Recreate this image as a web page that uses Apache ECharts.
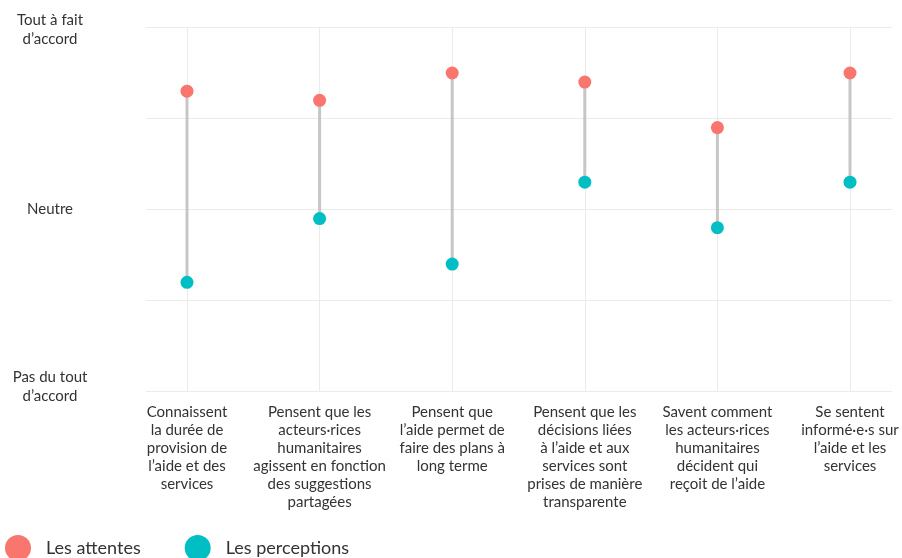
<!DOCTYPE html>
<html>
<head>
<meta charset="utf-8">
<script src="https://cdn.jsdelivr.net/npm/echarts@6/dist/echarts.min.js"></script>
<style>html,body{margin:0;padding:0;background:#fff}#c{width:902px;height:558px}</style>
</head>
<body>
<div id="c"></div>
<script>
const categories = [
  'Connaissent\nla durée de\nprovision de\nl’aide et des\nservices',
  'Pensent que les\nacteurs·rices\nhumanitaires\nagissent en fonction\ndes suggestions\npartagées',
  'Pensent que\nl’aide permet de\nfaire des plans à\nlong terme',
  'Pensent que les\ndécisions liées\nà l’aide et aux\nservices sont\nprises de manière\ntransparente',
  'Savent comment\nles acteurs·rices\nhumanitaires\ndécident qui\nreçoit de l’aide',
  'Se sentent\ninformé·e·s sur\nl’aide et les\nservices'
];
const attentes = [4.3, 4.2, 4.5, 4.4, 3.9, 4.5];
const perceptions = [2.2, 2.9, 2.4, 3.3, 2.8, 3.3];
const yTickLabels = {1: 'Pas du tout\nd’accord', 3: 'Neutre', 5: 'Tout à fait\nd’accord'};

const FONT = 'Lato';
const TXT = '#333333';
const chart = echarts.init(document.getElementById('c'), null, {renderer: 'canvas'});
const gTop = 27.5, gBottom = 558 - 391.5;
const labelStyle = {color: TXT, fontSize: 15, lineHeight: 19, fontFamily: FONT, align: 'center'};

chart.setOption({
  animation: false,
  textStyle: {fontFamily: FONT},
  grid: [
    {left: 146, right: 10, top: gTop, bottom: gBottom},
    {left: 187, right: 52, top: gTop, bottom: gBottom}
  ],
  xAxis: [
    {gridIndex: 0, type: 'value', min: 0, max: 1, show: false},
    {gridIndex: 1, type: 'category', data: categories, boundaryGap: false,
     axisLine: {show: false}, axisTick: {show: false},
     splitLine: {show: true, lineStyle: {color: '#ebebeb', width: 1}},
     axisLabel: {color: TXT, fontSize: 15, lineHeight: 18, margin: 12, interval: 0, fontFamily: FONT, align: 'center'}}
  ],
  yAxis: [
    {gridIndex: 0, type: 'value', min: 1, max: 5, interval: 1,
     axisLine: {show: false}, axisTick: {show: false},
     splitLine: {show: true, lineStyle: {color: '#ebebeb', width: 1}},
     axisLabel: {color: TXT, fontSize: 15, lineHeight: 19, align: 'center', margin: 96, fontFamily: FONT,
       formatter: v => {
         if (v === 1) return '{lo|' + yTickLabels[v] + '}';
         if (v === 5) return '{hi|' + yTickLabels[v] + '}';
         return yTickLabels[v] || '';
       },
       rich: {
         lo: Object.assign({}, labelStyle, {padding: [0, 0, 10, 0]}),
         hi: Object.assign({}, labelStyle, {padding: [4, 0, 0, 0]})
       }}},
    {gridIndex: 1, type: 'value', min: 1, max: 5, interval: 1, show: false}
  ],
  legend: {
    left: 5, top: 535, padding: 0, itemWidth: 26, itemHeight: 26, itemGap: 44, icon: 'circle',
    textStyle: {color: TXT, fontSize: 18, fontFamily: FONT, padding: [0, 0, 0, 10]},
    data: ['Les attentes', 'Les perceptions']
  },
  series: [
    {
      type: 'custom', xAxisIndex: 1, yAxisIndex: 1, silent: true,
      data: categories.map((c, i) => [i, perceptions[i], attentes[i]]),
      renderItem: function (params, api) {
        const p1 = api.coord([api.value(0), api.value(1)]);
        const p2 = api.coord([api.value(0), api.value(2)]);
        return {type: 'line', shape: {x1: p1[0], y1: p1[1], x2: p2[0], y2: p2[1]},
                style: {stroke: '#c6c6c6', lineWidth: 3}};
      },
      z: 2
    },
    {name: 'Les attentes', type: 'scatter', xAxisIndex: 1, yAxisIndex: 1, symbolSize: 13,
     itemStyle: {color: '#F8766D', opacity: 1}, data: attentes.map((v, i) => [i, v]), z: 3},
    {name: 'Les perceptions', type: 'scatter', xAxisIndex: 1, yAxisIndex: 1, symbolSize: 13,
     itemStyle: {color: '#00BFC4', opacity: 1}, data: perceptions.map((v, i) => [i, v]), z: 3}
  ]
});
</script>
</body>
</html>
